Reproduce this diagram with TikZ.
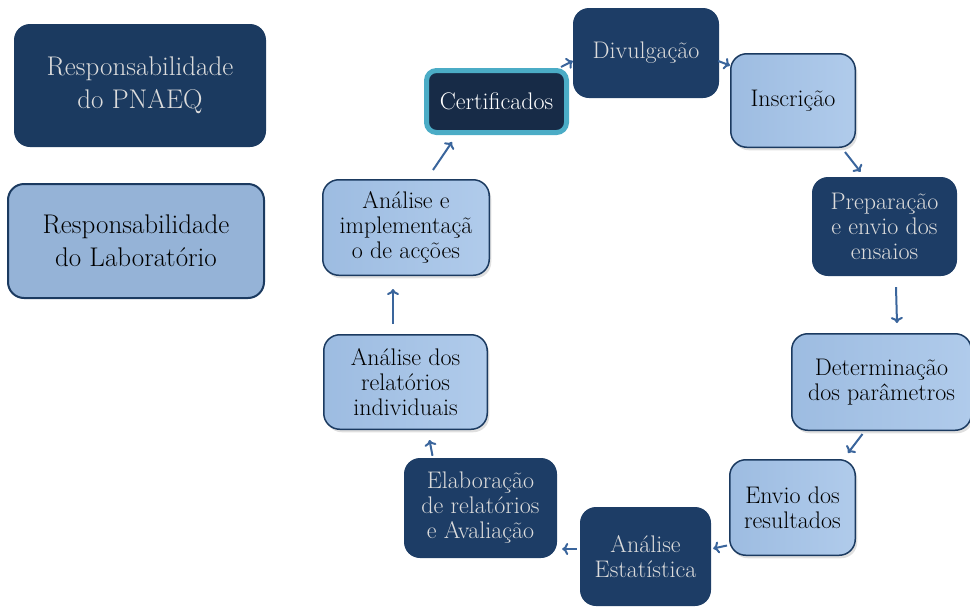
\documentclass[tikz,border=0pt]{standalone}
\usetikzlibrary{arrows.meta,shadows}
\definecolor{navyfill}{HTML}{1D3D66}
\definecolor{navyline}{HTML}{1B3A60}
\definecolor{inkfill}{HTML}{172B47}
\definecolor{cyanline}{HTML}{4BACC6}
\definecolor{paleblue}{HTML}{95B3D7}
\definecolor{bevelA}{HTML}{9DBCE1}
\definecolor{bevelB}{HTML}{B0CBEB}
\definecolor{greytext}{HTML}{DCDCDC}
\definecolor{arrowblue}{HTML}{3A659C}
\begin{document}
\begin{tikzpicture}[x=1pt, y=-1pt,
    font=\fontsize{24}{25}\selectfont,
    dark/.style={rounded corners=16pt, fill=navyfill, text=greytext, align=center, inner sep=0pt},
    light/.style={rounded corners=16pt, draw=navyline, line width=1.5pt, left color=bevelA, right color=bevelB,
        text=black, align=center, inner sep=0pt,
        drop shadow={opacity=0.25, shadow xshift=2pt, shadow yshift=-3pt}},
    arr/.style={-{To[length=6pt,width=12pt]}, draw=arrowblue, line width=2pt}]
    \useasboundingbox (0,0) rectangle (970,606);

    % legend
    \node [dark, fill=navyline, minimum width=252pt, minimum height=123pt,
        font=\fontsize{27}{33}\selectfont] (ka) at (140,85.5) {Responsabilidade\\do PNAEQ};
    \node [rounded corners=16pt, draw=navyline, line width=2pt, fill=paleblue, align=center, inner sep=0pt,
        minimum width=256pt, minimum height=114pt,
        font=\fontsize{27}{33}\selectfont] (kb) at (136,241) {Responsabilidade\\do Laboratório};

    % cycle
    \node [rounded corners=10pt, draw=cyanline, line width=5pt, fill=inkfill, text=white, inner sep=0pt,
        minimum width=140pt, minimum height=62pt] (c) at (496.5,101.5) {Certificados};
    \node [dark, minimum width=146pt, minimum height=90pt] (d) at (646,53) {Divulgação};
    \node [light, minimum width=124.5pt, minimum height=93.5pt] (i) at (793,100.5) {Inscrição};
    \node [dark, minimum width=145pt, minimum height=99pt] (p) at (884.5,226.5) {Preparação\\e envio dos\\ensaios};
    \node [light, minimum width=179.5pt, minimum height=96.5pt] (t) at (881.5,382) {Determinação\\dos parâmetros};
    \node [light, minimum width=125.5pt, minimum height=95.5pt] (e) at (792.5,507.5) {Envio dos\\resultados};
    \node [dark, minimum width=131pt, minimum height=99pt] (s) at (645.5,556.5) {Análise\\Estatística};
    \node [dark, minimum width=153pt, minimum height=100pt] (r) at (480.5,508) {Elaboração\\de relatórios\\e Avaliação};
    \node [light, minimum width=163.5pt, minimum height=94.5pt] (a) at (405.5,382) {Análise dos\\relatórios\\individuais};
    \node [light, minimum width=166.5pt, minimum height=95.5pt] (m) at (406,227.5) {Análise e\\implementaçã\\o de acções};

    \draw [arr] ([shift={(-8,-1)}]c.north east) -- ([shift={(0,8)}]d.west);
    \draw [arr] ([shift={(-1,8)}]d.east) -- ([shift={(0,-35)}]i.west);
    \draw [arr] ([shift={(-11,4)}]i.south east) -- ([shift={(-24,-5)}]p.north);
    \draw [arr] ([shift={(11.5,11)}]p.south) -- ([shift={(15.5,-10)}]t.north);
    \draw [arr] ([shift={(-19,3)}]t.south) -- ([shift={(-8,-6)}]e.north east);
    \draw [arr] ([shift={(-2,38)}]e.west) -- ([shift={(2,-8)}]s.east);
    \draw [arr] ([shift={(-3,-7.5)}]s.west) -- ([shift={(5,41)}]r.east);
    \draw [arr] ([shift={(-48,-2)}]r.north) -- ([shift={(24,10)}]a.south);
    \draw [arr] ([shift={(-12.5,-10)}]a.north) -- ([shift={(-13,13)}]m.south);
    \draw [arr] ([shift={(27,-9)}]m.north) -- ([shift={(-44.5,7)}]c.south);
\end{tikzpicture}
\end{document}
